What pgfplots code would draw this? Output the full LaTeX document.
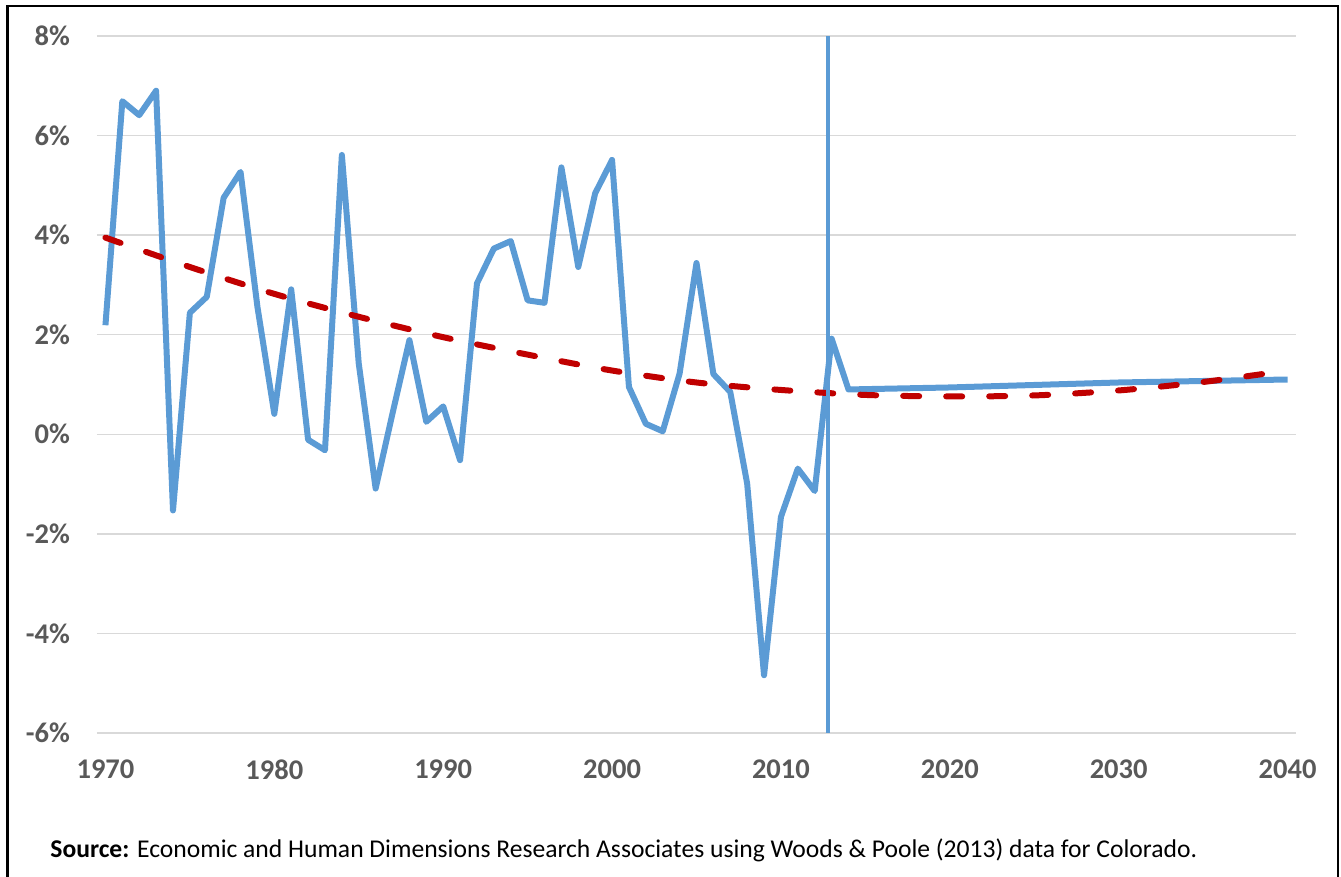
\documentclass[border=0pt]{standalone}
\usepackage{pgfplots}
\pgfplotsset{compat=1.18}
\usepackage{fontspec}
\setmainfont{Carlito}
\definecolor{exblue}{HTML}{5B9BD5}
\definecolor{exred}{HTML}{C00000}
\definecolor{ticktext}{HTML}{595959}
\definecolor{gridc}{HTML}{D9D9D9}
\begin{document}
\begin{tikzpicture}
\begin{axis}[
  at={(48.5pt,72pt)}, anchor=south west,
  scale only axis, width=599.5pt, height=348.5pt,
  xmin=1969.5, xmax=2040.5, ymin=-6, ymax=8,
  xtick={1970,1980,...,2040}, ytick={-6,-4,...,8},
  /pgf/number format/assume math mode=true,
  /pgf/number format/1000 sep={},
  yticklabel={\pgfmathprintnumber{\tick}\%},
  axis line style={draw=none}, major tick style={draw=none},
  ymajorgrids, grid style={gridc, line width=0.75pt},
  ticklabel style={font=\fontsize{14.25}{16}\selectfont\bfseries, text=ticktext},
  yticklabel style={xshift=-10pt},
  xticklabel style={yshift=-10pt},
  clip=false,
]
\addplot[exblue, line width=3pt, line join=round] coordinates {
(1970,2.19) (1971,6.69) (1972,6.41) (1973,6.90) (1974,-1.53) (1975,2.44)
(1976,2.76) (1977,4.75) (1978,5.27) (1979,2.56) (1980,0.41) (1981,2.91)
(1982,-0.11) (1983,-0.32) (1984,5.61) (1985,1.42) (1986,-1.09) (1987,0.42)
(1988,1.89) (1989,0.25) (1990,0.56) (1991,-0.52) (1992,3.03) (1993,3.73)
(1994,3.88) (1995,2.69) (1996,2.64) (1997,5.36) (1998,3.36) (1999,4.84)
(2000,5.51) (2001,0.95) (2002,0.21) (2003,0.06) (2004,1.22) (2005,3.44)
(2006,1.21) (2007,0.85) (2008,-0.99) (2009,-4.84) (2010,-1.66) (2011,-0.69)
(2012,-1.14) (2013,1.92) (2014,0.90) (2017,0.92) (2020,0.94) (2025,0.99)
(2030,1.04) (2035,1.07) (2040,1.10)
};
\addplot[exred, line width=3pt, line cap=round, dash pattern=on 8pt off 13.5pt, smooth] coordinates {
(1970,3.95) (1975,3.36) (1980,2.82) (1985,2.36) (1990,1.95) (1995,1.60)
(2000,1.28) (2005,1.04) (2010,0.89) (2015,0.79) (2020,0.76) (2025,0.78)
(2030,0.88) (2035,1.05) (2040,1.28)
};
\addplot[exblue, line width=2pt] coordinates {(2012.8,-6) (2012.8,8)};
\end{axis}
\node[anchor=base west, font=\fontsize{12.8}{15}\selectfont, inner sep=0pt] at (25pt,9.5pt)
  {\textbf{Source:} Economic and Human Dimensions Research Associates using Woods \& Poole (2013) data for Colorado.};
\draw[line width=1.25pt] (3.75pt,-20pt) -- (3.75pt,435.5pt) -- (669pt,435.5pt) -- (669pt,-20pt);
\pgfresetboundingbox
\path[use as bounding box] (0,0) rectangle (670.5pt,438.5pt);
\end{tikzpicture}
\end{document}
